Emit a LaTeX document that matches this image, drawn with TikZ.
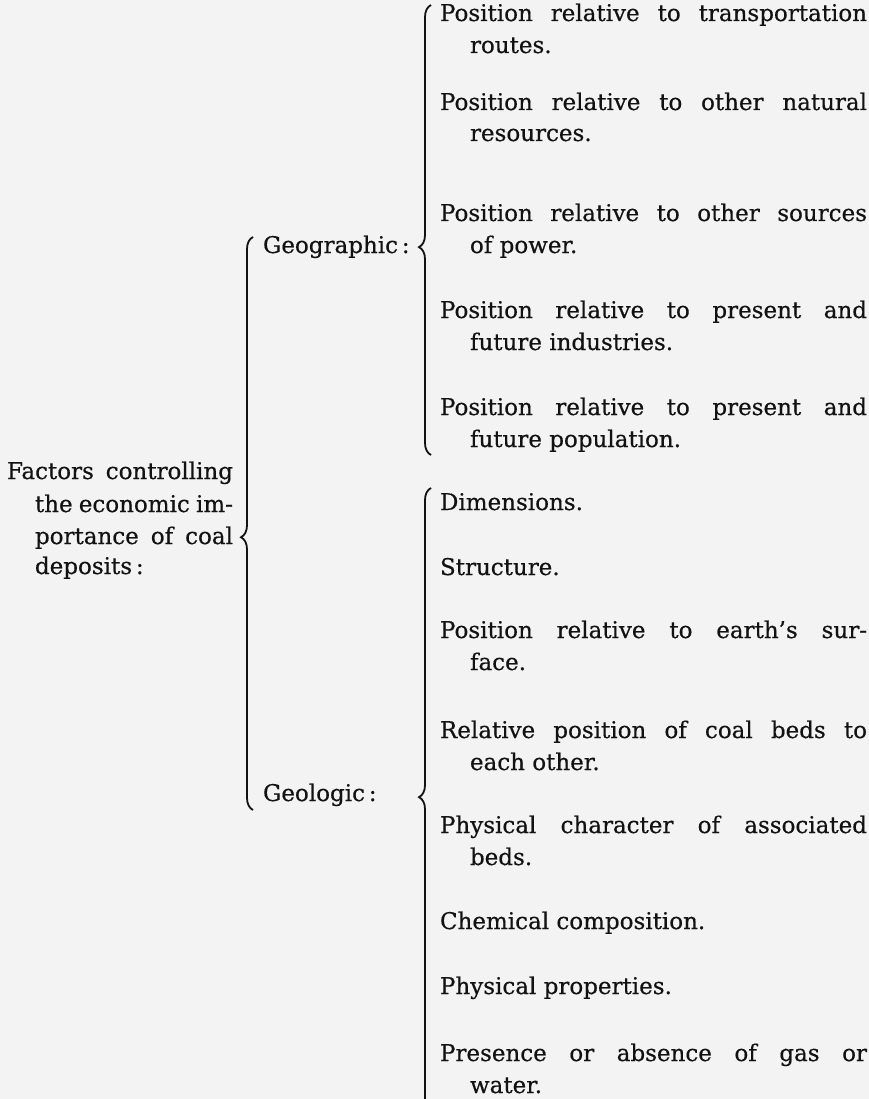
\documentclass[tikz,border=0pt]{standalone}
\usepackage{fontspec}
\setmainfont[FakeBold=0.5]{DejaVu Serif}
\usetikzlibrary{decorations.pathreplacing}
\definecolor{bg}{RGB}{243,243,243}
\definecolor{ink}{RGB}{18,18,18}
\tikzset{
  txt/.style={anchor=base west, inner sep=0pt, outer sep=0pt, text=ink,
              font=\fontsize{23}{32}\selectfont},
  bracefig/.style={draw=ink, line width=1.8pt, decorate,
                   decoration={brace, amplitude=12pt, aspect=#1}},
}
\newcommand\jline[2]{\hbox to #1pt{#2}}
\begin{document}
\begin{tikzpicture}[x=1pt,y=-1pt]
\useasboundingbox (0,0) rectangle (869,1099);
\fill[bg] (0,0) rectangle (869,1099);
\clip (0,0) rectangle (869,1099);

% left label
\node[txt] (f1) at (7,479)  {\jline{226}{Factors controlling}};
\node[txt] (f2) at (35,512) {\jline{198}{the economic im-}};
\node[txt] (f3) at (35,544) {\jline{198}{portance of coal}};
\node[txt] (f4) at (35,574) {deposits\,:};

% middle labels
\node[txt] (geo) at (263,253) {Geographic\,:};
\node[txt] (gel) at (263,801) {Geologic\,:};

% geographic items
\node[txt] (g1a) at (440,21)  {\jline{427}{Position relative to transportation}};
\node[txt] (g1b) at (470,53)  {routes.};
\node[txt] (g2a) at (440,110) {\jline{427}{Position relative to other natural}};
\node[txt] (g2b) at (470,141) {resources.};
\node[txt] (g3a) at (440,221) {\jline{427}{Position relative to other sources}};
\node[txt] (g3b) at (470,253) {of power.};
\node[txt] (g4a) at (440,318) {\jline{427}{Position relative to present and}};
\node[txt] (g4b) at (470,350) {future industries.};
\node[txt] (g5a) at (440,415) {\jline{427}{Position relative to present and}};
\node[txt] (g5b) at (470,447) {future population.};

% geologic items
\node[txt] (d1)  at (440,510)  {Dimensions.};
\node[txt] (d2)  at (440,575)  {Structure.};
\node[txt] (d3a) at (440,638)  {\jline{427}{Position relative to earth’s sur-}};
\node[txt] (d3b) at (470,670)  {face.};
\node[txt] (d4a) at (440,738)  {\jline{427}{Relative position of coal beds to}};
\node[txt] (d4b) at (470,770)  {each other.};
\node[txt] (d5a) at (440,833)  {\jline{427}{Physical character of associated}};
\node[txt] (d5b) at (470,865)  {beds.};
\node[txt] (d6)  at (440,929)  {Chemical composition.};
\node[txt] (d7)  at (440,994)  {Physical properties.};
\node[txt] (d8a) at (440,1061) {\jline{427}{Presence or absence of gas or}};
\node[txt] (d8b) at (470,1093) {water.};

% braces
\coordinate (ob1) at (253,810);
\coordinate (ob2) at (253,237);
\draw[bracefig=0.476] (ob1) -- (ob2);
\coordinate (gb1) at (431,455);
\coordinate (gb2) at (431,5);
\draw[bracefig=0.462] (gb1) -- (gb2);
\coordinate (lb1) at (431,1110);
\coordinate (lb2) at (431,488);
\draw[bracefig=0.503] (lb1) -- (lb2);
\end{tikzpicture}
\end{document}
